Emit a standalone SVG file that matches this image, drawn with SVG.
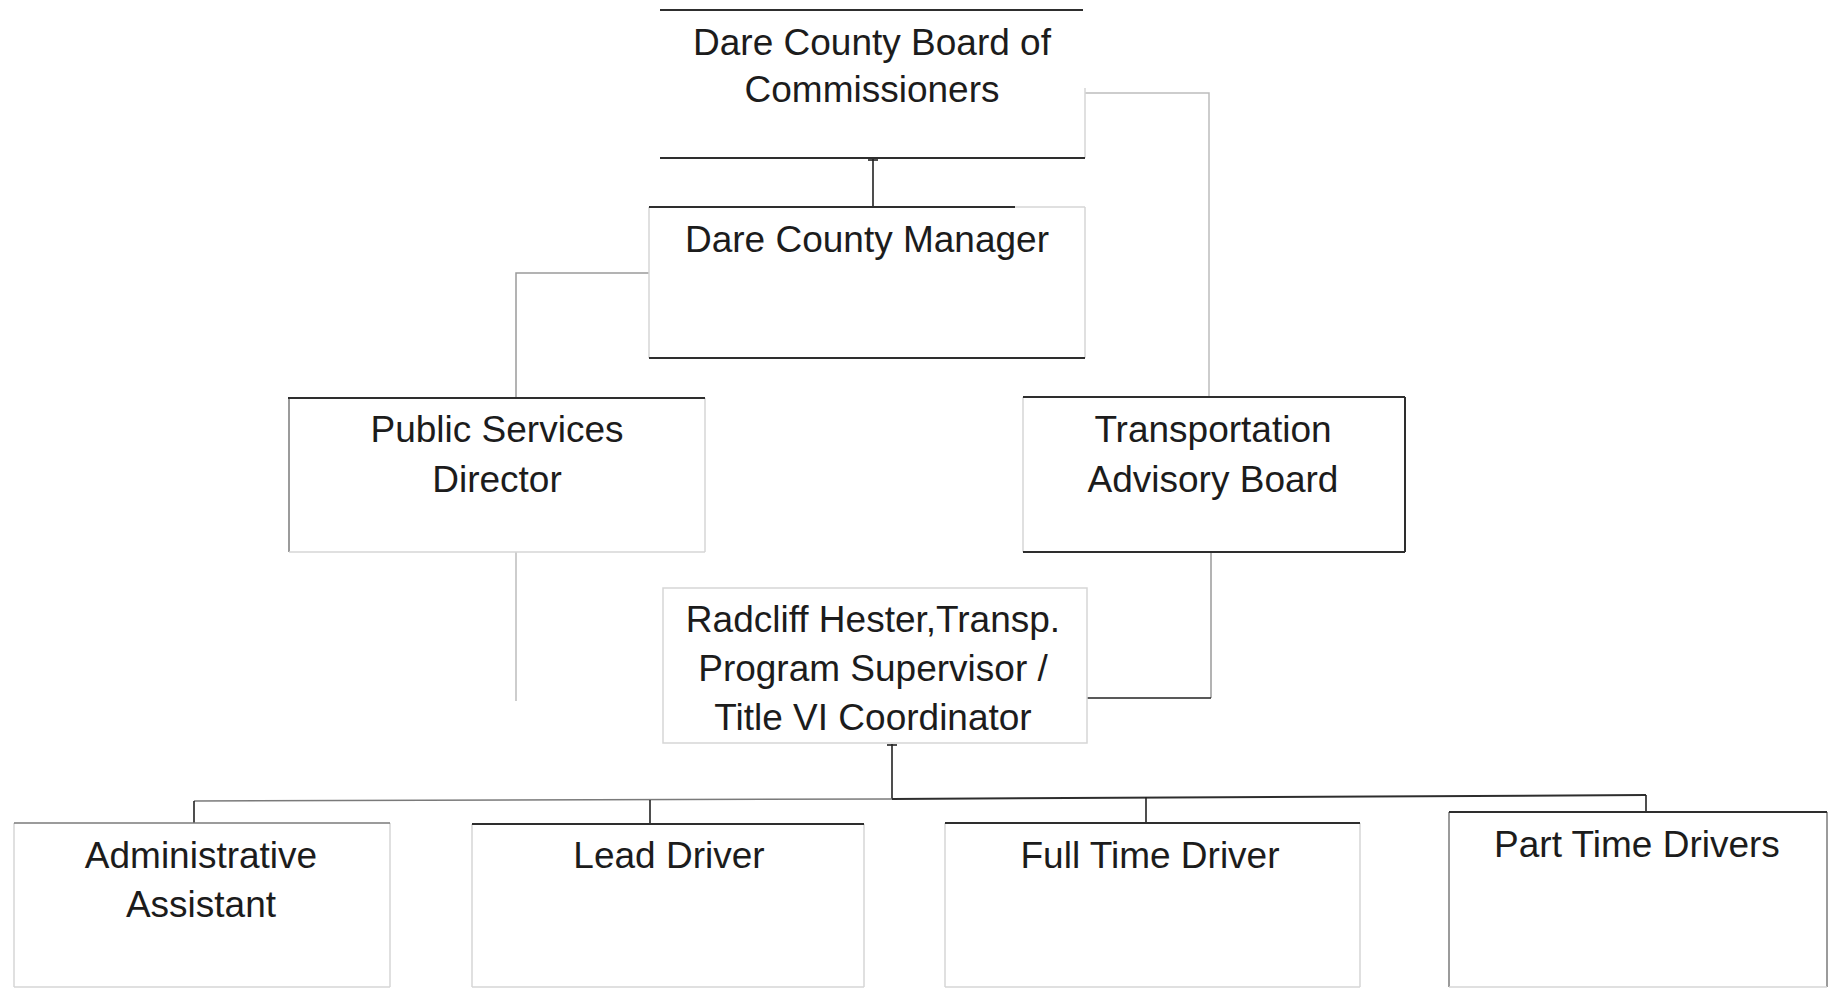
<svg xmlns="http://www.w3.org/2000/svg" width="1838" height="988" viewBox="0 0 1838 988">
<style>
.bg{fill:#ffffff}
.box{fill:#ffffff;stroke:none}
.dk{stroke:#2e2e2e;stroke-width:2;fill:none}
.md{stroke:#7a7a7a;stroke-width:1.5;fill:none}
.lt{stroke:#d6d6d6;stroke-width:1.5;fill:none}
.cn{stroke:#222222;stroke-width:1.6;fill:none}
.cg{stroke:#9a9a9a;stroke-width:1.5;fill:none}
.cl{stroke:#bdbdbd;stroke-width:1.5;fill:none}
text{font-family:"Liberation Sans",Arial,sans-serif;font-size:37px;fill:#1c1c1c;text-anchor:middle}
</style>
<rect class="bg" x="0" y="0" width="1838" height="988"/>

<g id="connectors">
  <line class="cn" x1="873" y1="158" x2="873" y2="207"/>
  <line class="cn" x1="868" y1="160" x2="878" y2="160"/>
  <polyline class="cg" points="649,273 516,273 516,398"/>
  <line class="cl" x1="516" y1="552" x2="516" y2="701"/>
  <polyline class="cl" points="1085,93 1209,93 1209,397"/>
  <line class="cg" x1="1211" y1="552" x2="1211" y2="698"/>
  <line class="cn" x1="1087" y1="698" x2="1211" y2="698"/>
  <line class="cn" x1="892" y1="744" x2="892" y2="799"/>
  <line class="cn" x1="887" y1="745" x2="897" y2="745"/>
  <line class="md" x1="194" y1="801" x2="892" y2="799"/>
  <line class="dk" x1="892" y1="799" x2="1646" y2="795"/>
  <line class="cn" x1="194" y1="801" x2="194" y2="823"/>
  <line class="cn" x1="650" y1="800" x2="650" y2="824"/>
  <line class="cn" x1="1146" y1="797" x2="1146" y2="823"/>
  <line class="cn" x1="1646" y1="795" x2="1646" y2="812"/>
</g>

<g id="board">
  <rect class="box" x="660" y="10" width="423" height="148"/>
  <line class="lt" x1="1085" y1="88" x2="1085" y2="158"/>
  <line class="dk" x1="660" y1="10" x2="1083" y2="10"/>
  <line class="dk" x1="660" y1="158" x2="1085" y2="158"/>
  <text x="872" y="55">Dare County Board of</text>
  <text x="872" y="102">Commissioners</text>
</g>

<g id="manager">
  <rect class="box" x="649" y="207" width="436" height="151"/>
  <line class="lt" x1="649" y1="207" x2="649" y2="358"/>
  <line class="lt" x1="1085" y1="207" x2="1085" y2="358"/>
  <line class="lt" x1="1015" y1="207" x2="1085" y2="207"/>
  <line class="dk" x1="649" y1="207" x2="1015" y2="207"/>
  <line class="dk" x1="649" y1="358" x2="1085" y2="358"/>
  <text x="867" y="252">Dare County Manager</text>
</g>

<g id="public-services">
  <rect class="box" x="288" y="398" width="417" height="154"/>
  <line class="md" x1="289" y1="398" x2="289" y2="552"/>
  <line class="lt" x1="705" y1="398" x2="705" y2="552"/>
  <line class="lt" x1="289" y1="552" x2="705" y2="552"/>
  <line class="dk" x1="288" y1="398" x2="705" y2="398"/>
  <text x="497" y="442">Public Services</text>
  <text x="497" y="492">Director</text>
</g>

<g id="advisory-board">
  <rect class="box" x="1023" y="397" width="382" height="155"/>
  <line class="lt" x1="1023" y1="397" x2="1023" y2="552"/>
  <line class="dk" x1="1023" y1="397" x2="1405" y2="397"/>
  <line class="dk" x1="1405" y1="397" x2="1405" y2="552"/>
  <line class="dk" x1="1023" y1="552" x2="1405" y2="552"/>
  <text x="1213" y="442">Transportation</text>
  <text x="1213" y="492">Advisory Board</text>
</g>

<g id="supervisor">
  <rect class="box" x="663" y="588" width="424" height="155"/>
  <rect class="lt" x="663" y="588" width="424" height="155"/>
  <text x="873" y="632">Radcliff Hester,Transp.</text>
  <text x="873" y="681">Program Supervisor /</text>
  <text x="873" y="730">Title VI Coordinator</text>
</g>

<g id="admin-assistant">
  <rect class="box" x="14" y="823" width="376" height="164"/>
  <line class="lt" x1="14" y1="823" x2="14" y2="987"/>
  <line class="lt" x1="390" y1="823" x2="390" y2="987"/>
  <line class="lt" x1="14" y1="987" x2="390" y2="987"/>
  <line class="md" x1="14" y1="823" x2="390" y2="823"/>
  <text x="201" y="868">Administrative</text>
  <text x="201" y="917">Assistant</text>
</g>

<g id="lead-driver">
  <rect class="box" x="472" y="824" width="392" height="163"/>
  <line class="lt" x1="472" y1="824" x2="472" y2="987"/>
  <line class="lt" x1="864" y1="824" x2="864" y2="987"/>
  <line class="lt" x1="472" y1="987" x2="864" y2="987"/>
  <line class="dk" x1="472" y1="824" x2="864" y2="824"/>
  <text x="669" y="868">Lead Driver</text>
</g>

<g id="full-time-driver">
  <rect class="box" x="945" y="823" width="415" height="164"/>
  <line class="lt" x1="945" y1="823" x2="945" y2="987"/>
  <line class="lt" x1="1360" y1="823" x2="1360" y2="987"/>
  <line class="lt" x1="945" y1="987" x2="1360" y2="987"/>
  <line class="dk" x1="945" y1="823" x2="1360" y2="823"/>
  <text x="1150" y="868">Full Time Driver</text>
</g>

<g id="part-time-drivers">
  <rect class="box" x="1449" y="812" width="378" height="175"/>
  <line class="md" x1="1449" y1="812" x2="1449" y2="987"/>
  <line class="md" x1="1827" y1="812" x2="1827" y2="987"/>
  <line class="lt" x1="1449" y1="987" x2="1827" y2="987"/>
  <line class="dk" x1="1449" y1="812" x2="1827" y2="812"/>
  <text x="1637" y="857">Part Time Drivers</text>
</g>
</svg>
